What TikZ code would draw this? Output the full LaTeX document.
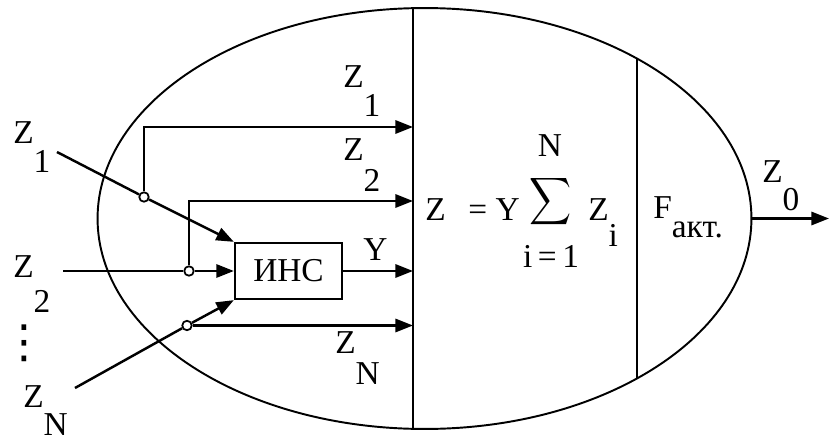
\documentclass[tikz,border=0pt]{standalone}
\usepackage{fontspec}
\setmainfont{Liberation Serif}
\newfontfamily\symfont{DejaVu Sans}
\usepackage{graphicx}
\usetikzlibrary{arrows.meta,positioning,shapes.geometric}
\newcommand{\lblfont}{\fontsize{19}{22}\selectfont}
\newcommand{\sbot}[2][17pt]{\raisebox{-#1}{#2}}

\begin{document}
\begin{tikzpicture}[x=0.02cm, y=-0.02cm,
    body/.style={ellipse, draw, line width=1.1pt, minimum width=13.08cm,
                 minimum height=8.42cm, inner sep=0pt},
    netbox/.style={rectangle, draw, line width=1.3pt, minimum width=2.14cm,
                   minimum height=1.12cm, inner sep=0pt, font=\lblfont},
    junc/.style={circle, draw, fill=white, line width=1pt, minimum size=0.19cm,
                 inner sep=0pt},
    lbl/.style={anchor=base west, inner sep=0pt, font=\lblfont},
    wire/.style={line width=1.4pt},
    arrow/.style={wire, -{Triangle[length=10pt, width=7.5pt]}}
]
\useasboundingbox (0,0) rectangle (829,443);
\node[body] (body) at (424.5,218.5) {};
\begin{scope}
\clip (424.5,218.5) ellipse [x radius=327, y radius=210.5];
\draw[wire] (413,0) -- (413,443);
\draw[wire] (637,0) -- (637,443);
\end{scope}

\node[netbox] (ins) at (288.5,271) {ИНС};
\node[junc] (j1) at (144,197) {};
\node[junc] (j2) at (189,271) {};
\node[junc] (jN) at (187,325.5) {};
\coordinate (in1) at (57,152);
\coordinate (in2) at (63,271);
\coordinate (inN) at (75,388);
\coordinate (b1) at (413,127);
\coordinate (b2) at (413,201);
\coordinate (bY) at (413,271);
\coordinate (bN) at (413,325.5);
\coordinate (z0) at (829,218.5);

\draw[wire] (in1) -- (j1);
\draw[arrow] (j1) -- (ins.north west);
\draw[wire] (in2) -- (j2);
\draw[arrow] (j2) -- (ins.west);
\draw[wire] (inN) -- (jN);
\draw[arrow] (jN) -- (ins.south west);
\draw[arrow] (j1) |- (b1);
\draw[arrow] (j2) |- (b2);
\draw[arrow] (ins) -- (bY);
\draw[arrow] (jN) -- (bN);
\draw[arrow] (body.east) -- (z0);

\node[lbl] (lz1) at (13,143) {Z\sbot{1}};
\node[lbl] (lz2) at (13,277) {Z\sbot[20pt]{2}};
\node[font=\symfont\fontsize{26}{26}\selectfont, inner sep=0pt] (dots) at (24,343) {⋮};
\node[lbl] (lzN) at (23,407) {Z\sbot[16pt]{N}};
\node[lbl] (lz1r) at (343,87) {Z\sbot{1}};
\node[lbl] (lz2r) at (343,160) {Z\sbot[18pt]{2}};
\node[lbl] (ly) at (363,260) {Y};
\node[lbl] (lzNr) at (335,353) {Z\sbot[18pt]{N}};
\node[lbl] (lz0) at (762,182) {Z\sbot[16pt]{0}};

\node[lbl] (fz) at (425,220) {Z};
\node[lbl] (feq) at (468,220) {= Y};
\node[inner sep=0pt] (fsum) at (551,201.5)
    {\resizebox*{24pt}{30pt}{$\displaystyle\sum$}};
\node[font=\lblfont, inner sep=0pt] (fn) at (550,146) {N};
\node[font=\lblfont, inner sep=0pt] (fi) at (551,256) {i\,=\,1};
\node[lbl] (fzi) at (588,220) {Z\sbot[15pt]{i}};
\node[lbl] (ff) at (653,218) {F\sbot[11pt]{акт.}};
\end{tikzpicture}
\end{document}
